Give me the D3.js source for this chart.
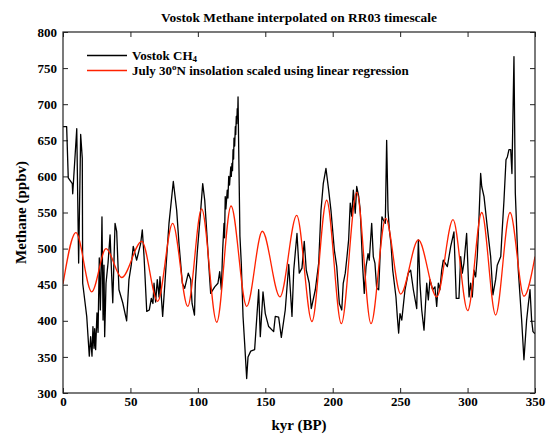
<!DOCTYPE html>
<html>
<head>
<meta charset="utf-8">
<script src="https://cdn.jsdelivr.net/npm/d3@7"></script>
<style>
    body { margin: 0; background: #fff; }
    text { font-family: "Liberation Serif", "DejaVu Serif", serif; font-weight: bold; fill: #000; }
</style>
</head>
<body>
<div id="chart"></div>
<script>
// Vostok CH4 (kyr BP, ppbv)
var ch4Age = [0, 2.7, 3.9, 6.9, 7.2, 10.2, 11.6, 13.1, 14.3, 14.6, 17.6, 19.5, 20.5, 21.5, 22.2, 23.0, 23.5, 24.2,
    25.2, 26.0, 26.9, 27.7, 28.4, 28.9, 29.7, 30.4, 30.9, 31.9, 33.4, 34.9, 36.9, 38.6, 39.8, 41.5, 44.3, 47.2,
    48.9, 50.6, 52.1, 54.6, 57.6, 58.8, 60.1, 62.1, 64.0, 65.5, 66.7, 67.5, 68.7, 69.9, 71.2, 71.9, 73.9, 76.2,
    78.6, 81.8, 84.3, 86.0, 88.5, 90.2, 92.9, 94.7, 95.7, 97.5, 98.1, 99.6, 102.1, 103.6, 105.1, 106.8, 108.0,
    109.5, 112.5, 114.9, 116.2, 117.4, 118.4, 119.4, 119.8, 120.3, 120.8, 121.8, 122.3, 122.9, 123.5, 124.4,
    124.8, 125.3, 125.7, 126.1, 126.5, 126.8, 127.3, 127.8, 128.1, 128.5, 128.9, 129.2, 129.5, 129.8, 130.3,
    131.2, 132.2, 133.5, 134.7, 136.2, 137.2, 139.2, 142.1, 143.9, 145.1, 146.3,
    148.3, 150.0, 152.5, 156.2, 157.4, 159.9, 161.9, 164.8, 167.4, 169.8, 171.1, 173.5, 175.2, 177.2, 178.9,
    180.4, 182.6, 184.1, 187.1, 189.6, 191.3, 193.0, 195.0, 197.0, 198.7, 201.2, 203.0, 204.9, 206.7, 207.8,
    209.3, 210.6, 211.8, 213.0, 214.1, 215.3, 216.7, 217.8, 219.3, 220.4, 222.2, 223.4, 224.7, 226.2, 227.1,
    228.9, 230.1, 231.3, 232.6, 234.1, 235.3, 236.5, 237.5, 239.0, 240.0, 241.0, 242.0, 243.2, 244.5, 246.9,
    247.9, 248.9, 249.9, 251.2, 253.6, 256.0, 257.8, 259.8, 262.3, 263.5, 264.7, 266.0, 267.7, 269.7, 270.9,
    272.1, 274.1, 275.8, 277.1, 278.3, 279.5, 280.8, 282.0, 285.0, 287.5, 289.9, 291.6, 293.6, 294.9, 296.1,
    297.3, 299.3, 301.1, 302.3, 303.5, 304.8, 306.0, 307.2, 308.5, 309.7, 310.5, 312.2, 314.6, 317.1, 318.8,
    320.8, 322.0, 324.6, 325.7, 327.0, 328.5, 329.5, 330.7, 332.0, 332.9, 334.4, 335.4, 337.6, 340.1, 341.8,
    343.8, 345.0, 346.3, 347.5, 348.5, 350];
var ch4 = [669, 669, 598, 590, 576, 666, 480, 658, 625, 452, 406, 351, 378, 351, 392, 362, 389, 360,
    411, 384, 487, 415, 480, 544, 401, 477, 378, 452, 480, 519, 425, 535, 524, 443, 425, 400,
    457, 477, 503, 484, 507, 526, 489, 413, 415, 431, 424, 452, 426, 457, 433, 461, 406, 470,
    535, 593, 553, 507, 452, 445, 466, 457, 424, 408, 452, 496, 553, 590, 567, 517, 480,
    438, 447, 452, 468, 443, 498, 535, 515, 572, 555, 581, 570, 600, 588, 613,
    600, 618, 608, 637, 624, 653, 642, 669, 658, 683, 673, 694, 680, 710, 637,
    517, 480, 406, 369, 320, 350, 358, 360, 410, 443, 378,
    440, 410, 392, 385, 406, 405, 377, 415, 478, 406, 470, 521, 466, 473, 510,
    470, 452, 417, 443, 480, 553, 590, 611, 581, 553, 498, 475, 424, 415, 452,
    466, 489, 512, 563, 545, 581, 549, 586, 572, 553, 475, 438, 475, 493, 484,
    535, 489, 480, 445, 443, 498, 544, 540, 535, 650, 553, 526, 507, 470, 433,
    406, 383, 410, 401, 443, 466, 470, 443, 417, 512, 452, 415, 387, 452, 429,
    457, 443, 447, 420, 452, 443, 470, 484, 475, 503, 523, 431, 431, 489, 466,
    480, 521, 433, 452, 433, 470, 461, 489, 544, 604, 586, 572, 530, 489, 436,
    457, 477, 489, 526, 567, 623, 627, 637, 637, 604, 766, 577, 470, 401, 346,
    401, 422, 443, 401, 385, 382];

// July 30N insolation, scaled (turning points)
var insolAge = [0, 9.6, 21.3, 31.9, 43.5, 58.4, 70.2, 81.3, 92.5, 102.8, 114, 124.6, 136.2, 147.8, 160.9,
    173.3, 184.6, 195.5, 206.4, 217.8, 228.4, 239.3, 250.4, 263.5, 277.1, 289.2, 300.1, 310.5, 320.8,
    331.5, 341.8, 350];
var insol = [451, 522, 440, 500, 460, 510, 427, 535, 420, 555, 398, 559, 420, 524, 433,
    546, 399, 567, 396, 578, 396, 542, 437, 512, 433, 540, 414, 550, 408,
    550, 434, 489];

var xTicks = [0, 50, 100, 150, 200, 250, 300, 350];
var yTicks = [300, 350, 400, 450, 500, 550, 600, 650, 700, 750, 800];

var width = 546;
var height = 438;
var margin = {top: 32, right: 11, bottom: 45, left: 63};
var plotW = width - margin.left - margin.right;
var plotH = height - margin.top - margin.bottom;

var svg = d3.select("#chart").append("svg")
    .attr("width", width)
    .attr("height", height);

var x = d3.scaleLinear().domain([0, 350]).range([0, plotW]);
var y = d3.scaleLinear().domain([300, 800]).range([plotH, 0]);

var g = svg.append("g").attr("transform", "translate(" + margin.left + "," + margin.top + ")");

g.append("defs").append("clipPath").attr("id", "clip")
    .append("rect").attr("width", plotW).attr("height", plotH);

function styleAxis(sel) {
    sel.select(".domain").remove();
    sel.selectAll(".tick line").attr("stroke", "#222").attr("stroke-width", 1);
    sel.selectAll(".tick text").style("font-size", "13px").attr("fill", "#000");
}

g.append("g").attr("transform", "translate(0," + plotH + ")")
    .call(d3.axisBottom(x).tickValues(xTicks).tickSize(-5).tickPadding(4))
    .call(styleAxis);
g.append("g")
    .call(d3.axisTop(x).tickValues(xTicks).tickSize(-5).tickFormat(""))
    .call(styleAxis);
g.append("g")
    .call(d3.axisLeft(y).tickValues(yTicks).tickSize(-5).tickPadding(6))
    .call(styleAxis);
g.append("g").attr("transform", "translate(" + plotW + ",0)")
    .call(d3.axisRight(y).tickValues(yTicks).tickSize(-5).tickFormat(""))
    .call(styleAxis);

var ch4Line = d3.line()
    .x((d, i) => x(ch4Age[i]))
    .y(d => y(d));

var insolLine = d3.line()
    .x((d, i) => x(insolAge[i]))
    .y(d => y(d))
    .curve(d3.curveMonotoneX);

var lines = g.append("g").attr("clip-path", "url(#clip)");
lines.append("path").datum(ch4)
    .attr("d", ch4Line)
    .attr("fill", "none").attr("stroke", "#000").attr("stroke-width", 1.3)
    .attr("stroke-linejoin", "round");
lines.append("path").datum(insol)
    .attr("d", insolLine)
    .attr("fill", "none").attr("stroke", "#ff2200").attr("stroke-width", 1.3);

// frame
g.append("rect").attr("width", plotW).attr("height", plotH)
    .attr("fill", "none").attr("stroke", "#222").attr("stroke-width", 1.2);

// legend
var legend = g.append("g").attr("transform", "translate(24,23.5)");
legend.append("line").attr("x1", 0).attr("x2", 40).attr("y1", 0).attr("y2", 0)
    .attr("stroke", "#000").attr("stroke-width", 1.3);
var t1 = legend.append("text").attr("x", 45).attr("y", 4.5).style("font-size", "13px");
t1.append("tspan").text("Vostok CH");
t1.append("tspan").attr("dy", 2).style("font-size", "9px").text("4");
legend.append("line").attr("x1", 0).attr("x2", 40).attr("y1", 15).attr("y2", 15)
    .attr("stroke", "#ff2200").attr("stroke-width", 1.3);
var t2 = legend.append("text").attr("x", 45).attr("y", 19.5).style("font-size", "13px");
t2.append("tspan").text("July 30");
t2.append("tspan").attr("dy", -5).style("font-size", "9px").text("o");
t2.append("tspan").attr("dy", 5).text("N insolation scaled using linear regression");

// titles
svg.append("text").attr("x", margin.left + plotW / 2).attr("y", 22)
    .attr("text-anchor", "middle").style("font-size", "13.4px")
    .text("Vostok Methane interpolated on RR03 timescale");
svg.append("text").attr("x", margin.left + plotW / 2).attr("y", 430)
    .attr("text-anchor", "middle").style("font-size", "15px")
    .text("kyr (BP)");
svg.append("text").attr("transform", "translate(26," + (margin.top + plotH / 2) + ") rotate(-90)")
    .attr("text-anchor", "middle").style("font-size", "15px")
    .text("Methane (ppbv)");
</script>
</body>
</html>
